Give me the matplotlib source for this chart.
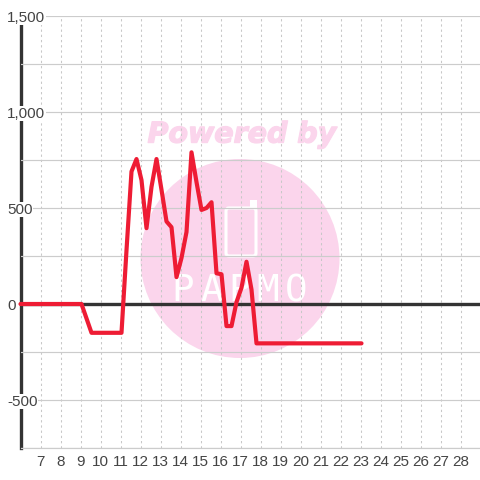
import matplotlib
matplotlib.use("Agg")
import matplotlib.pyplot as plt
import matplotlib.patheffects as pe
from matplotlib.patches import Circle, FancyBboxPatch, Rectangle

plt.rcParams['font.family'] = ['Liberation Sans', 'DejaVu Sans']

hours = [6, 9.05, 9.55, 11.05, 11.3, 11.55, 11.8, 12.05, 12.3, 12.55, 12.8, 13.05, 13.3, 13.55,
         13.8, 14.05, 14.3, 14.55, 14.8, 15.05, 15.3, 15.55, 15.8, 16.05, 16.3, 16.55,
         16.8, 17.05, 17.3, 17.55, 17.8, 23.05]
values = [0, 0, -150, -150, 280, 690, 755, 645, 395, 610, 755, 595, 430, 400,
          140, 240, 375, 790, 635, 490, 500, 530, 160, 155, -115, -115,
          10, 85, 220, 75, -205, -205]
y_major = [-500, 0, 500, 1000, 1500]
y_labels = ['-500', '0', '500', '1,000', '1,500']
y_grid = [-750, -500, -250, 0, 250, 500, 750, 1000, 1250, 1500]
x_ticks = list(range(7, 29))
mark_letters = ['P', 'A', 'P', 'M', 'O']

S = 480.0
fig = plt.figure(figsize=(4.8, 4.8), dpi=100, facecolor='white')
ax = fig.add_axes([20.5 / S, 32 / S, 460 / S, 432 / S])
ax.patch.set_visible(False)
ax.set_xlim(6, 29)
ax.set_ylim(-750, 1500)

# watermark, placed in figure pixels
def fx(p): return p / S
def fy(p): return 1 - p / S
pink = '#FBD5EC'
fig.patches.append(Circle((fx(240), fy(258.5)), 99.5 / S, transform=fig.transFigure,
                          facecolor=pink, edgecolor='none', zorder=-2))
fig.patches.append(FancyBboxPatch((fx(226), fy(256)), 30 / S, 48 / S,
                                  boxstyle='round,pad=0,rounding_size=0.006',
                                  transform=fig.transFigure, facecolor='none',
                                  edgecolor='white', linewidth=2.2, zorder=-1))
fig.patches.append(Rectangle((fx(250), fy(208)), 7 / S, 8 / S, transform=fig.transFigure,
                             facecolor='white', edgecolor='none', zorder=-1))
fig.text(fx(242), fy(134.5), 'Powered by', family='DejaVu Sans', weight='bold', style='italic',
         fontsize=20.5, color=pink, ha='center', va='center', zorder=-1,
         path_effects=[pe.withStroke(linewidth=1.0, foreground=pink)])
for i, letter in enumerate(mark_letters):
    fig.text(fx(183 + 28.2 * i), fy(291), letter, family='DejaVu Sans Mono', fontsize=27,
             color='white', ha='center', va='center', zorder=-1)

# grid
ax.set_yticks(y_grid, minor=True)
ax.set_yticks(y_major, y_labels)
ax.set_xticks(x_ticks)
ax.grid(True, axis='y', which='both', color='#cccccc', linewidth=0.85, zorder=1)
ax.grid(True, axis='x', color='#c8c8c8', linewidth=0.75, linestyle=(0, (2.2, 2.8)))
ax.yaxis.set_zorder(1.5)
ax.xaxis.set_zorder(0.5)
ax.tick_params(axis='both', which='both', length=0)
ax.tick_params(axis='x', labelsize=11, labelcolor='#444444', pad=5)
ax.tick_params(axis='y', labelsize=11, labelcolor='#444444', pad=9.8)
for lab in ax.get_yticklabels():
    lab.set_ha('left')
    lab.set_bbox(dict(facecolor='white', edgecolor='none', pad=0.6))

for side in ('top', 'right'):
    ax.spines[side].set_visible(False)
ax.spines['bottom'].set_color('#cccccc')
ax.spines['bottom'].set_linewidth(0.85)
ax.spines['left'].set_color('#333333')
ax.spines['left'].set_linewidth(2.4)
ax.spines['left'].set_zorder(1)

ax.axhline(0, color='#333333', linewidth=2.4, zorder=2)
ax.plot(hours, values, color='#EE1C34', linewidth=3.0, zorder=3, clip_on=False,
        solid_joinstyle='round', solid_capstyle='round')

fig.savefig('out.png', dpi=100)
